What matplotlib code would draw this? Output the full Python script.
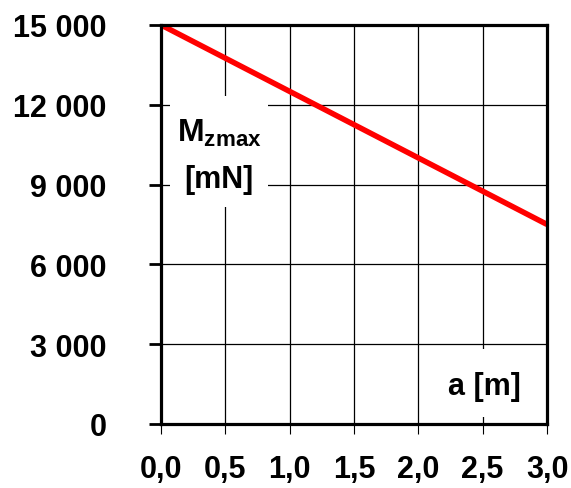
import matplotlib
matplotlib.use('Agg')
from matplotlib import pyplot as plt
from matplotlib.patches import Rectangle

# dane
a_m = [0.0, 3.0]
mz_max = [15000, 7500]
x_ticks = [0.0, 0.5, 1.0, 1.5, 2.0, 2.5, 3.0]
x_labels = ['0,0', '0,5', '1,0', '1,5', '2,0', '2,5', '3,0']
y_ticks = [0, 3000, 6000, 9000, 12000, 15000]
y_labels = ['0', '3 000', '6 000', '9 000', '12 000', '15 000']

plt.rcParams['font.family'] = ['Liberation Sans', 'DejaVu Sans']
plt.rcParams['font.weight'] = 'bold'
plt.rcParams['mathtext.fontset'] = 'custom'
plt.rcParams['mathtext.rm'] = 'Liberation Sans:bold'
plt.rcParams['mathtext.bf'] = 'Liberation Sans:bold'

fig = plt.figure(figsize=(5.71, 4.89), dpi=100)
ax = fig.add_axes([0.282, 0.131, 0.676, 0.816])

ax.plot(a_m, mz_max, color='red', lw=4, zorder=2, solid_capstyle='butt')

ax.set_xlim(0, 3)
ax.set_ylim(0, 15000)
ax.set_xticks(x_ticks)
ax.set_xticklabels(x_labels, fontsize=22, fontweight='bold')
ax.set_yticks(y_ticks)
ax.set_yticklabels(y_labels, fontsize=22, fontweight='bold')
ax.tick_params(axis='x', direction='out', length=7, width=0.8, pad=15)
ax.tick_params(axis='y', direction='out', length=9, width=2, pad=30)

ax.set_axisbelow(True)
ax.grid(True, color='black', lw=0.9)
for s in ax.spines.values():
    s.set_linewidth(2.3)

# białe pola pod opisami osi
ax.add_patch(Rectangle((0.07, 8150), 0.76, 4180, facecolor='white', edgecolor='none', zorder=1))
ax.add_patch(Rectangle((2.01, 260), 0.99, 2560, facecolor='white', edgecolor='none', zorder=1))

ax.text(0.45, 10650, r'$\mathbf{M}_{\mathbf{zmax}}$', fontsize=23, ha='center', va='baseline', zorder=3)
ax.text(0.45, 9200, '[mN]', fontsize=22, fontweight='bold', ha='center', va='center', zorder=3)
ax.text(2.51, 1430, 'a [m]', fontsize=22, fontweight='bold', ha='center', va='center', zorder=3)

fig.savefig('out.png', dpi=100)
